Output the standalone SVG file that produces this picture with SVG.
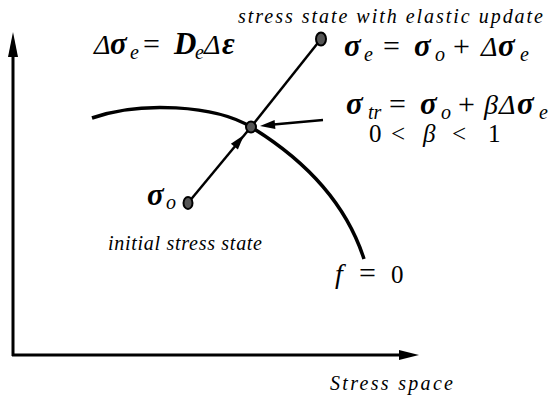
<svg xmlns="http://www.w3.org/2000/svg" width="558" height="398" viewBox="0 0 558 398">
<style>
.ax{stroke:#000;stroke-width:3;fill:none}
.ln{stroke:#000;stroke-width:2.5;fill:none}
.cv{stroke:#000;stroke-width:3.5;fill:none}
.ah{fill:#000}
.dot{fill:#555;stroke:#000;stroke-width:2}
text{font-family:"Liberation Serif",serif;fill:#000}
.op{font-size:30px}
.bi{font-size:31px;font-style:italic;font-weight:bold}
.i{font-size:28px;font-style:italic}
.s{font-size:20px;font-style:italic}
.n{font-size:25px}
.lab{font-size:20px;font-style:italic}
</style>
<g id="axes">
<line class="ax" x1="13" y1="356" x2="13" y2="50"/>
<polygon class="ah" points="13,32 8,57 18,57"/>
<line class="ax" x1="12" y1="355" x2="402" y2="355"/>
<polygon class="ah" points="419,355 399,350 399,360"/>
</g>
<g id="yield-surface">
<path class="cv" d="M92,118 C140,101 215,105 251,127 C300,157 345,200 364,259"/>
</g>
<g id="connectors">
<line class="ln" x1="188" y1="203" x2="251" y2="127"/>
<polygon class="ah" points="244,135 237.9,149.5 230.9,143.7"/>
<line class="ln" x1="251" y1="127" x2="321" y2="39"/>
<line class="ln" x1="323" y1="120" x2="268" y2="125"/>
<polygon class="ah" points="260,126 275.4,129.1 274.6,120.1"/>
</g>
<g id="node-initial">
<ellipse class="dot" cx="188" cy="203" rx="4.5" ry="6"/>
<text class="bi" x="147" y="205">σ</text><text class="s" font-size="22" x="166" y="209">o</text>
<text class="lab" x="108" y="250" textLength="154" lengthAdjust="spacing">initial stress state</text>
</g>
<g id="node-trial">
<ellipse class="dot" cx="251" cy="127" rx="5" ry="5.5"/>
<text class="bi" x="346" y="114">σ</text><text class="s" x="368" y="119">tr</text>
<text class="op" x="389" y="114">=</text>
<text class="bi" x="420" y="114">σ</text><text class="s" x="441" y="119">o</text>
<text class="op" x="458" y="114">+</text>
<text class="i" x="484" y="114">β</text><text class="i" x="499" y="114">Δ</text>
<text class="bi" x="517" y="114">σ</text><text class="s" x="539" y="119">e</text>
<text class="n" x="369" y="142">0</text><text class="n" x="391" y="142">&lt;</text><text class="n" font-style="italic" x="423" y="142">β</text><text class="n" x="452" y="142">&lt;</text><text class="n" x="488" y="142">1</text>
</g>
<g id="node-elastic">
<ellipse class="dot" cx="321" cy="39" rx="5" ry="6.5"/>
<text class="lab" x="238" y="23" textLength="305" lengthAdjust="spacing">stress state with elastic update</text>
<text class="bi" x="344" y="56">σ</text><text class="s" x="364" y="61">e</text>
<text class="op" x="383" y="56">=</text>
<text class="bi" x="414" y="56">σ</text><text class="s" x="435" y="61">o</text>
<text class="op" x="453" y="56">+</text>
<text class="i" x="481" y="56">Δ</text>
<text class="bi" x="498" y="56">σ</text><text class="s" x="520" y="61">e</text>
</g>
<g id="label-increment">
<text class="i" x="94" y="54">Δ</text>
<text class="bi" x="110" y="54">σ</text><text class="s" x="130" y="59">e</text>
<text class="op" x="143" y="54">=</text>
<text class="bi" font-size="26" x="174" y="54">D</text><text class="s" x="195" y="59">e</text>
<text class="i" x="204" y="54">Δ</text><text class="bi" font-size="30" x="222" y="54">ε</text>
</g>
<g id="label-f">
<text class="i" font-size="27" x="335" y="283">f</text><text class="op" font-size="28" x="359" y="283">=</text><text class="n" x="391" y="283">0</text>
</g>
<g id="label-space">
<text class="lab" x="330" y="390" textLength="123" lengthAdjust="spacing">Stress space</text>
</g>
</svg>
